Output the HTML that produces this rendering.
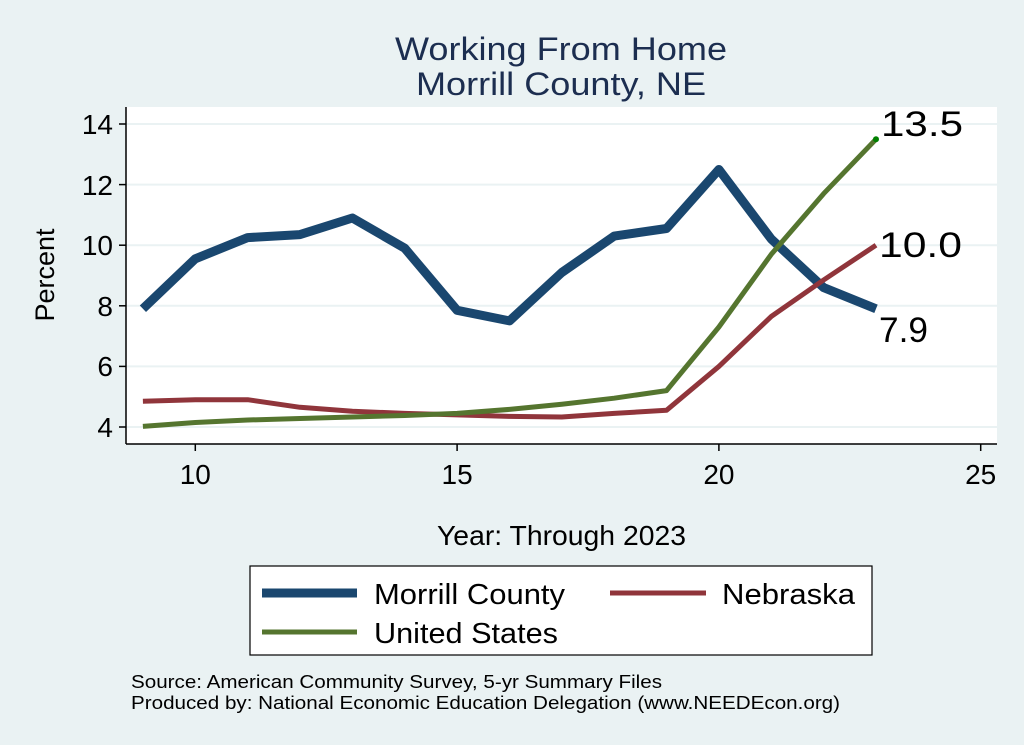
<!DOCTYPE html>
<html><head><meta charset="utf-8"><style>
body{margin:0;background:#EAF2F3;}
svg{display:block;font-family:"Liberation Sans",Arial,sans-serif;}
</style></head><body>
<svg width="1024" height="745" viewBox="0 0 1024 745">
<rect width="1024" height="745" fill="#EAF2F3"/>
<rect x="126" y="107" width="871" height="337" fill="#fff"/>
<g stroke="#EAF2F3" stroke-width="2">
<line x1="126" x2="997" y1="124" y2="124"/><line x1="126" x2="997" y1="184.6" y2="184.6"/>
<line x1="126" x2="997" y1="245.2" y2="245.2"/><line x1="126" x2="997" y1="305.8" y2="305.8"/>
<line x1="126" x2="997" y1="366.4" y2="366.4"/><line x1="126" x2="997" y1="427" y2="427"/>
</g>
<text x="395" y="60" font-size="32" fill="#1C2E50" textLength="332" lengthAdjust="spacingAndGlyphs">Working From Home</text>
<text x="416" y="95" font-size="32" fill="#1C2E50" textLength="290" lengthAdjust="spacingAndGlyphs">Morrill County, NE</text>
<g stroke="#000" stroke-width="1.5">
<line x1="126" y1="107" x2="126" y2="444"/><line x1="126" y1="444" x2="997" y2="444"/>
<line x1="119" x2="126" y1="124" y2="124"/><line x1="119" x2="126" y1="184.6" y2="184.6"/>
<line x1="119" x2="126" y1="245.2" y2="245.2"/><line x1="119" x2="126" y1="305.8" y2="305.8"/>
<line x1="119" x2="126" y1="366.4" y2="366.4"/><line x1="119" x2="126" y1="427" y2="427"/>
<line x1="195.3" x2="195.3" y1="444" y2="451"/><line x1="457.1" x2="457.1" y1="444" y2="451"/>
<line x1="718.9" x2="718.9" y1="444" y2="451"/><line x1="980.7" x2="980.7" y1="444" y2="451"/>
</g>
<g font-size="28" text-anchor="end" fill="#000">
<text x="113" y="134">14</text><text x="113" y="195">12</text><text x="113" y="255">10</text>
<text x="113" y="316">8</text><text x="113" y="376">6</text><text x="113" y="437">4</text>
</g>
<g font-size="28" text-anchor="middle" fill="#000">
<text x="195.3" y="484">10</text><text x="457.1" y="484">15</text><text x="718.9" y="484">20</text><text x="980.7" y="484">25</text>
</g>
<text x="54" y="275" font-size="27" text-anchor="middle" transform="rotate(-90 54 275)">Percent</text>
<text x="437" y="545" font-size="28" textLength="249" lengthAdjust="spacingAndGlyphs">Year: Through 2023</text>
<g fill="none" stroke-linejoin="round">
<polyline stroke="#1A476F" stroke-width="9" points="142.9,308.8 195.3,258.8 247.7,237.6 300,234.6 352.4,218 404.7,248.2 457.1,310.3 509.5,320.9 561.8,272.5 614.2,236.1 666.5,228.5 718.9,169.5 771.3,239.1 823.6,287.6 876,308.8"/>
<polyline stroke="#90353B" stroke-width="5" points="142.9,401.2 195.3,399.7 247.7,399.7 300,407.3 352.4,411.2 404.7,413.4 457.1,414.9 509.5,416.4 561.8,417 614.2,413.4 666.5,410.3 718.9,366.4 771.3,316.4 823.6,280 876,245.2"/>
<polyline stroke="#55752F" stroke-width="5" points="142.9,426.4 195.3,422.5 247.7,420 300,418.5 352.4,417 404.7,415.5 457.1,413.4 509.5,409.4 561.8,404.3 614.2,398.2 666.5,390.6 718.9,327 771.3,254.3 823.6,193.7 876,139.2"/>
</g>
<circle cx="876" cy="139.2" r="3" fill="#008000"/>
<g font-size="35" fill="#000">
<text x="881" y="136" textLength="82" lengthAdjust="spacingAndGlyphs">13.5</text>
<text x="879" y="257" textLength="83" lengthAdjust="spacingAndGlyphs">10.0</text>
<text x="879" y="342" textLength="49" lengthAdjust="spacingAndGlyphs">7.9</text>
</g>
<rect x="250" y="566" width="622" height="89" fill="#fff" stroke="#000" stroke-width="1.2"/>
<line x1="262" x2="357" y1="593" y2="593" stroke="#1A476F" stroke-width="9"/>
<line x1="610" x2="706" y1="593" y2="593" stroke="#90353B" stroke-width="5"/>
<line x1="262" x2="357" y1="632" y2="632" stroke="#55752F" stroke-width="5"/>
<g font-size="29" fill="#000">
<text x="374" y="604" textLength="191" lengthAdjust="spacingAndGlyphs">Morrill County</text>
<text x="722" y="604" textLength="133" lengthAdjust="spacingAndGlyphs">Nebraska</text>
<text x="374" y="643" textLength="184" lengthAdjust="spacingAndGlyphs">United States</text>
</g>
<g font-size="18" fill="#000">
<text x="131" y="688" textLength="531" lengthAdjust="spacingAndGlyphs">Source: American Community Survey, 5-yr Summary Files</text>
<text x="131" y="709" textLength="709" lengthAdjust="spacingAndGlyphs">Produced by: National Economic Education Delegation (www.NEEDEcon.org)</text>
</g>
</svg>
</body></html>
